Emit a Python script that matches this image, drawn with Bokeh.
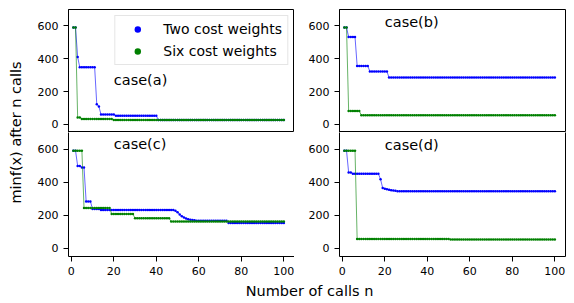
from math import pi
from bokeh.plotting import figure
from bokeh.models import Range1d, Legend, LegendItem, Label, FixedTicker, LinearAxis
from bokeh.layouts import row, column
from bokeh.embed import file_html
from bokeh.resources import INLINE

# ---------------- data ----------------
n_calls = list(range(1, 101))

two_a = [590]*2 + [410] + [348]*8 + [122] + [108] + [60]*7 + [52]*20 + [26]*60
six_a = [590]*2 + [42]*2 + [33]*15 + [26]*81

two_b = [590]*2 + [533]*4 + [356]*6 + [322]*9 + [285]*79
six_b = [590]*2 + [81]*6 + [55]*92

two_c = ([590]*2 + [498]*2 + [488]*2 + [283]*3 + [238]*4 + [232]*35
         + [226, 217, 204, 194, 186, 180, 176, 173, 171, 169]
         + [166]*15 + [153]*27)
six_c = [590]*5 + [244]*13 + [207]*11 + [181]*17 + [161]*54

two_d = ([590]*2 + [458]*2 + [450]*13 + [417]
         + [365, 360, 356, 353, 351, 349, 347] + [344]*75)
six_d = [590]*6 + [56]*44 + [53]*50

case_labels = ["case(a)", "case(b)", "case(c)", "case(d)"]
y_ticks = [0, 200, 400, 600]
x_ticks = [0, 20, 40, 60, 80, 100]
series_names = ["Two cost weights", "Six cost weights"]

FONT = "DejaVu Sans"
BLUE = "#0000ff"
GREEN = "#008000"

x_range = Range1d(-1.3, 105)


def make_fig(top, left):
    p = figure(
        frame_width=226,
        frame_height=123 if top else 124,
        x_range=x_range,
        y_range=Range1d(-50, 700),
        output_backend="svg",
        toolbar_location=None,
        title=None,
        x_axis_location=None if top else "below",
        min_border_left=38 if left else 45,
        min_border_right=0 if left else 5,
        min_border_top=9 if top else 0,
        min_border_bottom=0 if top else 25,
        background_fill_color="white",
        border_fill_color="white",
    )
    p.grid.visible = False
    if top:
        p.outline_line_color = "black"
        p.outline_line_width = 1
        p.outline_line_alpha = 1
    else:
        # top edge is supplied by the panel above; draw the other sides with axes
        p.outline_line_color = None
        rax = LinearAxis(ticker=FixedTicker(ticks=[]), major_tick_out=0, major_tick_in=0,
                         minor_tick_out=0, minor_tick_in=0, major_label_standoff=0,
                         major_label_text_font_size="0px", axis_line_color="black")
        p.add_layout(rax, "right")
    for ax in p.axis:
        ax.axis_line_color = "black"
        ax.major_tick_out = 5 if ax.major_tick_out else 0
        ax.major_tick_in = 0
        ax.minor_tick_out = 0
        ax.minor_tick_in = 0
        ax.major_tick_line_color = "black"
        ax.major_label_text_font = FONT
        ax.major_label_text_font_size = "11px" if ax.major_label_text_font_size != "0px" else "0px"
        ax.major_label_text_color = "black"
        ax.major_label_standoff = 5 if ax.major_label_standoff else 0
    p.yaxis[0].ticker = FixedTicker(ticks=y_ticks)
    if not top:
        p.xaxis.ticker = FixedTicker(ticks=x_ticks)
    return p


def draw(p, two, six):
    p.line(n_calls, two, line_color=BLUE, line_width=1, line_alpha=0.6)
    rb = p.scatter(n_calls, two, marker="circle", size=2.5, fill_color=BLUE, line_color=BLUE, line_width=0)
    p.line(n_calls, six, line_color=GREEN, line_width=1, line_alpha=0.6)
    rg = p.scatter(n_calls, six, marker="circle", size=2.5, fill_color=GREEN, line_color=GREEN, line_width=0)
    return rb, rg


p1 = make_fig(True, True)
p2 = make_fig(True, False)
p3 = make_fig(False, True)
p4 = make_fig(False, False)

rb, rg = draw(p1, two_a, six_a)
draw(p2, two_b, six_b)
draw(p3, two_c, six_c)
draw(p4, two_d, six_d)

for p, lab, yy in [(p1, case_labels[0], 272), (p2, case_labels[1], 625),
                   (p3, case_labels[2], 628), (p4, case_labels[3], 622)]:
    p.add_layout(Label(x=20, y=yy, text=lab, text_font=FONT, text_font_size="14.5px",
                       text_color="black", text_baseline="middle", text_align="left"))

legend = Legend(
    items=[LegendItem(label=series_names[0], renderers=[rb]),
           LegendItem(label=series_names[1], renderers=[rg])],
    location="top_right",
    label_text_font=FONT,
    label_text_font_size="14px",
    label_text_color="black",
    glyph_width=34,
    glyph_height=16,
    label_height=16,
    spacing=6,
    padding=5,
    label_standoff=9,
    margin=6,
    border_line_color="#cccccc",
    border_line_width=1,
    background_fill_color="white",
    background_fill_alpha=0.8,
)
p1.add_layout(legend)

# y label strip
ystrip = figure(width=30, height=132 + 149, x_range=Range1d(0, 30), y_range=Range1d(0, 281),
                output_backend="svg", toolbar_location=None, min_border=0, title=None,
                x_axis_location=None, y_axis_location=None, outline_line_color=None)
ystrip.grid.visible = False
ystrip.add_layout(Label(x=15, y=281 - 132, text="minf(x) after n calls", angle=pi / 2,
                        text_align="center", text_baseline="middle", text_font=FONT,
                        text_font_size="14.5px", text_color="black"))

# x label strip
xstrip = figure(width=570, height=21, x_range=Range1d(0, 570), y_range=Range1d(0, 21),
                output_backend="svg", toolbar_location=None, min_border=0, title=None,
                x_axis_location=None, y_axis_location=None, outline_line_color=None)
xstrip.grid.visible = False
xstrip.add_layout(Label(x=309, y=12, text="Number of calls n", text_align="center",
                        text_baseline="middle", text_font=FONT, text_font_size="14.5px",
                        text_color="black"))

layout = column(row(ystrip, column(row(p1, p2), row(p3, p4))), xstrip)

open("out.html", "w").write(file_html(layout, INLINE))
